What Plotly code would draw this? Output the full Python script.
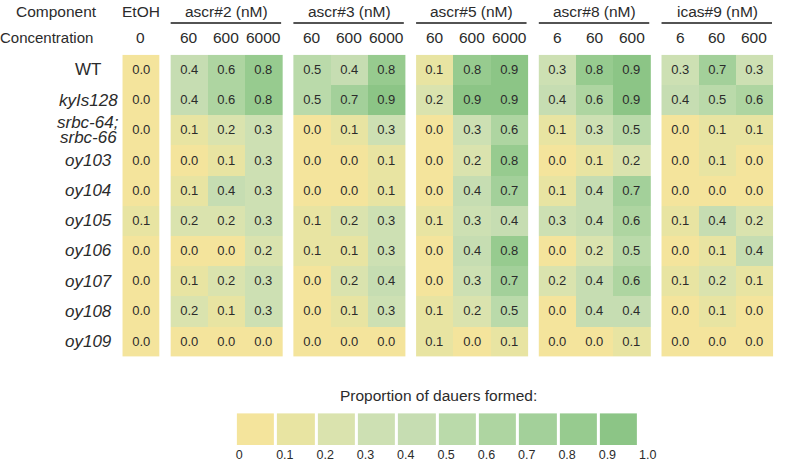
import plotly.graph_objects as go

# ---------------- data ----------------
components = ["EtOH", "ascr#2 (nM)", "ascr#3 (nM)", "ascr#5 (nM)", "ascr#8 (nM)", "icas#9 (nM)"]
concentrations = [["0"], ["60", "600", "6000"], ["60", "600", "6000"],
                  ["60", "600", "6000"], ["6", "60", "600"], ["6", "60", "600"]]
strains = ["WT", "kyIs128", "srbc-64;|srbc-66", "oy103", "oy104", "oy105",
           "oy106", "oy107", "oy108", "oy109"]
italic = [False, True, True, True, True, True, True, True, True, True]

etoh = [[0.0], [0.0], [0.0], [0.0], [0.0], [0.1], [0.0], [0.0], [0.0], [0.0]]
ascr2 = [[0.4, 0.6, 0.8], [0.4, 0.6, 0.8], [0.1, 0.2, 0.3], [0.0, 0.1, 0.3], [0.1, 0.4, 0.3],
         [0.2, 0.2, 0.3], [0.0, 0.0, 0.2], [0.1, 0.2, 0.3], [0.2, 0.1, 0.3], [0.0, 0.0, 0.0]]
ascr3 = [[0.5, 0.4, 0.8], [0.5, 0.7, 0.9], [0.0, 0.1, 0.3], [0.0, 0.0, 0.1], [0.0, 0.0, 0.1],
         [0.1, 0.2, 0.3], [0.1, 0.1, 0.3], [0.0, 0.2, 0.4], [0.0, 0.1, 0.3], [0.0, 0.0, 0.0]]
ascr5 = [[0.1, 0.8, 0.9], [0.2, 0.9, 0.9], [0.0, 0.3, 0.6], [0.0, 0.2, 0.8], [0.0, 0.4, 0.7],
         [0.1, 0.3, 0.4], [0.0, 0.4, 0.8], [0.0, 0.3, 0.7], [0.1, 0.2, 0.5], [0.1, 0.0, 0.1]]
ascr8 = [[0.3, 0.8, 0.9], [0.4, 0.6, 0.9], [0.1, 0.3, 0.5], [0.0, 0.1, 0.2], [0.1, 0.4, 0.7],
         [0.3, 0.4, 0.6], [0.0, 0.2, 0.5], [0.2, 0.4, 0.6], [0.0, 0.4, 0.4], [0.0, 0.0, 0.1]]
icas9 = [[0.3, 0.7, 0.3], [0.4, 0.5, 0.6], [0.0, 0.1, 0.1], [0.0, 0.1, 0.0], [0.0, 0.0, 0.0],
         [0.1, 0.4, 0.2], [0.0, 0.1, 0.4], [0.1, 0.2, 0.1], [0.0, 0.1, 0.0], [0.0, 0.0, 0.0]]
groups = [etoh, ascr2, ascr3, ascr5, ascr8, icas9]

legend_bins = [0.0, 0.1, 0.2, 0.3, 0.4, 0.5, 0.6, 0.7, 0.8, 0.9]
legend_ticks = ["0", "0.1", "0.2", "0.3", "0.4", "0.5", "0.6", "0.7", "0.8", "0.9", "1.0"]

# ---------------- style ----------------
W, H = 794, 462
FONT = "Liberation Sans, Arial, sans-serif"
TXT = "#2b2b2b"
bin_colors = ["#F4E49C", "#E8E4A2", "#DAE3AE", "#CDE0B3", "#C6DDB2",
              "#BADAAA", "#AED5A1", "#A3D09A", "#97CB8F", "#8CC586"]
colorscale = [[i / 9, c] for i, c in enumerate(bin_colors)]
GAP = 0.3


def px_(p):
    return p / W


def py(p):
    return (H - p) / H


fig = go.Figure()
annotations = []
shapes = []

start = 0.0
for gi, (gname, concs, vals) in enumerate(zip(components, concentrations, groups)):
    xs = [start + j for j in range(len(concs))]
    fig.add_trace(go.Heatmap(
        z=vals, x=xs, y=list(range(len(strains))),
        zmin=0, zmax=0.9, colorscale=colorscale, showscale=False,
        texttemplate="%{z:.1f}", textfont=dict(family=FONT, size=13, color=TXT),
        hoverinfo="skip", xaxis="x", yaxis="y"))
    annotations.append(dict(x=(xs[0] + xs[-1]) / 2, y=py(12), xref="x", yref="paper",
                            xanchor="center", yanchor="middle",
                            text=gname, showarrow=False,
                            font=dict(family=FONT, size=15.5, color=TXT)))
    if len(concs) > 1:
        shapes.append(dict(type="line", xref="x", yref="paper",
                           x0=xs[0] - 0.5, x1=xs[-1] + 0.47, y0=py(23), y1=py(23),
                           line=dict(color="#1a1a1a", width=1.5)))
    for x, c in zip(xs, concs):
        annotations.append(dict(x=x, y=py(38), xref="x", yref="paper", text=c,
                                xanchor="center", yanchor="middle", showarrow=False,
                                font=dict(family=FONT, size=15.5, color=TXT)))
    start = xs[-1] + 1 + GAP

x_end = start - GAP - 0.5

annotations.append(dict(x=px_(101), y=py(12), xref="paper", yref="paper", xanchor="right",
                        yanchor="middle", text="Component", showarrow=False,
                        font=dict(family=FONT, size=15.5, color=TXT)))
annotations.append(dict(x=px_(97), y=py(38), xref="paper", yref="paper", xanchor="right",
                        yanchor="middle", text="Concentration", showarrow=False,
                        font=dict(family=FONT, size=15, color=TXT)))

# row labels
for i, (s, it) in enumerate(zip(strains, italic)):
    lines = s.split("|")
    n = len(lines)
    for k, ln in enumerate(lines):
        t = f"<i>{ln}</i>" if it else ln
        annotations.append(dict(x=px_(90), y=i, xref="paper", yref="y", text=t,
                                xanchor="center", yanchor="middle",
                                yshift=(n - 1) * 7.5 - k * 15, showarrow=False,
                                font=dict(family=FONT, size=17, color=TXT)))

# legend
fig.add_trace(go.Heatmap(
    z=[legend_bins], x=list(range(len(legend_bins))), y=[0],
    zmin=0, zmax=0.9, colorscale=colorscale, showscale=False, xgap=3,
    hoverinfo="skip", xaxis="x2", yaxis="y2"))
annotations.append(dict(x=px_(448), y=py(397), xref="paper", yref="paper",
                        xanchor="center", yanchor="middle",
                        text="Proportion of dauers formed:", showarrow=False,
                        font=dict(family=FONT, size=15.5, color=TXT)))

fig.update_layout(
    width=W, height=H, margin=dict(l=0, r=0, t=0, b=0),
    paper_bgcolor="white", plot_bgcolor="white",
    xaxis=dict(domain=[px_(125), px_(790)], range=[-0.5, x_end], visible=False,
               fixedrange=True),
    yaxis=dict(domain=[py(358), py(55)], range=[len(strains) - 0.5, -0.5], visible=False,
               fixedrange=True),
    xaxis2=dict(domain=[px_(241), px_(653)], range=[-0.5, len(legend_bins) - 0.5],
                anchor="y2", tickmode="array",
                tickvals=[i - 0.5 for i in range(len(legend_ticks))], ticktext=legend_ticks,
                ticklabelposition="outside right", ticks="", showline=False, showgrid=False,
                zeroline=False, tickfont=dict(family=FONT, size=12.5, color=TXT),
                fixedrange=True),
    yaxis2=dict(domain=[py(447), py(415)], range=[-0.5, 0.5], anchor="x2", visible=False,
                fixedrange=True),
    annotations=annotations, shapes=shapes,
)

fig.write_html(
    "out.html",
    config={"displayModeBar": False},
    post_script="document.body.style.margin='0';document.body.style.overflow='hidden';",
)
